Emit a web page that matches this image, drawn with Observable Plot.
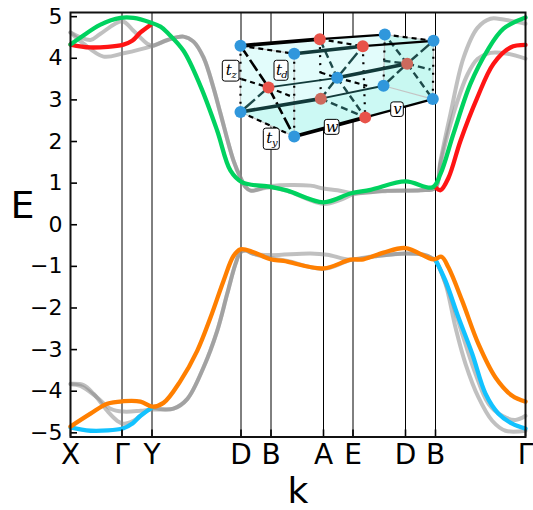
<!DOCTYPE html>
<html><head><meta charset="utf-8">
<script src="https://cdn.jsdelivr.net/npm/d3@7"></script>
<script src="https://cdn.jsdelivr.net/npm/@observablehq/plot@0.6"></script>
<style>html,body{margin:0;padding:0;background:#fff}svg{display:block}</style>
</head><body><div id="chart"></div>
<script>
const kTicks=[0,51.5,81.5,170.5,200.5,253,282.5,335,365,455];
const kLabels=["X","Γ","Y","D","B","A","E","D","B","Γ"];
const eTicks=[-5,-4,-3,-2,-1,0,1,2,3,4,5];

const green=[[0,4.33],[10,4.5],[30,4.81],[50,4.97],[63,4.97],[80,4.86],[90,4.76],[96.7,4.62],[113,4.18],[130,3.33],[146.7,2.26],[160,1.3],[171.7,1.02],[200,.91],[217,.82],[253,.54],[280,.75],[300,.84],[335,1.04],[362,.9],[370,1.22],[383,2.19],[400,3.39],[416.7,4.18],[433,4.71],[455,4.98]];
const redLeft=[[0,4.33],[20,4.26],[53,4.33],[61.7,4.42],[70,4.62],[80,4.8]];
const redRight=[[365,.9],[370,.83],[378,1.13],[390,2.02],[406.7,3.05],[423,3.87],[440,4.26],[455,4.32]];
const grayUp1=[[0,4.62],[20,4.44],[30,4.59],[51.7,4.89],[63,4.66],[76.7,4.35],[82,4.3],[97,4.44],[113,4.52],[123,4.4],[133,4.02],[143,3.29],[150,2.67],[163,1.54],[170,1.13],[175,.91],[180,.82],[200,.93],[240,.94],[253,.87],[267,.83],[283,.76],[317,.82],[350,.83],[365,.89],[370,1.54],[380,2.67],[393,4.01],[407,4.73],[420,4.95],[433,4.93],[455,4.83]];
const grayUp2=[[0,4.62],[13,4.35],[33,4.04],[53,4.12],[82,4.3],[97,4.44],[113,4.52],[123,4.4],[133,4.02],[143,3.29],[150,2.67],[163,1.54],[170,1.13],[175,.91],[180,.82],[200,.9],[217,.81],[253,.5],[270,.6],[283,.73],[317,.81],[350,.83],[365,.89],[370,1.47],[383,2.67],[397,3.61],[407,3.98],[420,4.13],[437,4.11],[455,3.99]];

const orange=[[0,-4.85],[20,-4.54],[36.7,-4.3],[53,-4.24],[70,-4.25],[81.7,-4.37],[93,-4.28],[110,-3.75],[126.7,-3.03],[140,-2.23],[153,-1.35],[163,-.75],[170,-.59],[183,-.66],[200,-.83],[213,-.87],[253,-1.05],[280,-.84],[293,-.83],[313,-.67],[335,-.56],[363,-.83],[371,-.77],[378,-1.03],[391.7,-1.83],[408,-2.87],[425,-3.67],[441.7,-4.11],[455,-4.25]];
const blueLeft=[[0,-4.87],[20,-4.95],[53,-4.89],[61.7,-4.78],[70,-4.59],[81.7,-4.39]];
const blueRight=[[365,-.84],[375,-1.35],[388,-2.23],[401.7,-3.1],[415,-4.06],[428,-4.54],[441.7,-4.78],[455,-4.9]];
const grayLow1=[[0,-3.82],[13,-3.85],[23,-4.06],[36.7,-4.47],[46.7,-4.71],[53,-4.78],[63,-4.71],[81.7,-4.4],[90,-4.43],[103,-4.42],[116.7,-4.19],[133,-3.43],[146.7,-2.55],[156.7,-1.66],[165,-.94],[170,-.66],[175,-.62],[183,-.7],[200,-.73],[240,-.69],[256.7,-.72],[280,-.84],[306.7,-.75],[335,-.69],[353,-.72],[363,-.82],[365,-.86],[375,-1.42],[385,-2.47],[395,-3.34],[408,-4.15],[421.7,-4.71],[435,-4.95],[455,-4.95]];
const grayLow2=[[0,-3.83],[10,-3.87],[26.7,-4.15],[40,-4.42],[53,-4.49],[70,-4.47],[81.7,-4.44],[90,-4.44],[103,-4.42],[116.7,-4.19],[133,-3.43],[146.7,-2.55],[156.7,-1.66],[165,-.94],[170,-.66],[175,-.62],[183,-.7],[200,-.8],[217,-.87],[253,-1.06],[280,-.85],[306.7,-.75],[335,-.69],[353,-.72],[363,-.82],[365,-.86],[378,-1.59],[391.7,-2.62],[405,-3.58],[418,-4.3],[431.7,-4.59],[445,-4.69],[455,-4.59]];

// inset lattice sketch, in the same k / E axes
const node={a:[170,4.3],b:[223.7,4.11],c:[314.3,4.57],d:[363,4.42],e:[170,2.71],f:[223.7,2.12],g:[313,3.34],h:[362.3,3.02],i:[266.7,3.53],
 m:[249.3,4.46],n:[292.3,4.29],o:[198,3.3],p:[250.3,3.03],q:[336.7,3.87],r:[294.7,2.58],
 u:[171,3.5],v:[223.3,3.06],w:[250,3.66],x:[296.7,3.34],y:[313,3.94],z:[360,3.73]};
const blueNodes=["a","b","c","d","e","f","g","h","i"];
const redNodes=["m","n","o","r"];
const mutedNodes=["p","q"];
const hull=["a","m","c","d","h","r","f","e","a"];
const faceBottom=["e","f","r","h","g","p","e"];
const faceRight=["c","d","h","g","c"];
const thickBlack=["a-m","f-r"];
const medBlack=["m-c","n-d","r-h"];
const thickTeal=["b-n","e-p","i-q"];
const thinTeal=["p-g","o-i"];
const dashBlack=["a-b","m-n","c-d","u-o","o-v","w-i","i-x","e-f"];
const dashThick=["a-o","o-f"];
const dashTeal=["i-m","i-r","q-c","q-h","p-r","y-q","q-z"];
const solidTeal=["o-e","i-n","i-p","q-d","q-g"];
const dotted=["a-e","b-f","m-p","n-r","c-g","d-h"];
const grayEdges=["a-b","c-d","g-h","e-f","a-e","b-f","c-g","d-h"];
const boxes=[
 {t:"t",s:"z",k1:152.3,k2:169,e1:3.94,e2:3.44},
 {t:"t",s:"d",k1:204,k2:218,e1:3.94,e2:3.46},
 {t:"t",s:"y",k1:193.3,k2:209.3,e1:2.31,e2:1.8},
 {t:"w",s:"",k1:254.3,k2:269,e1:2.52,e2:2.16},
 {t:"v",s:"",k1:320.7,k2:333.3,e1:2.94,e2:2.59}];

const xy={x:d=>d[0],y:d=>d[1]};
const band=(data,stroke)=>Plot.line(data,{...xy,stroke,strokeWidth:4.3,curve:"catmull-rom"});
const gray=(data)=>Plot.line(data,{...xy,stroke:"#888",strokeOpacity:.53,strokeWidth:4,curve:"catmull-rom"});
const poly=(names,fill)=>Plot.line(names.map(n=>node[n]),{...xy,fill,stroke:"none"});
const seg=(list,stroke,strokeWidth,strokeDasharray)=>Plot.link(list.map(s=>s.split("-")),{
  x1:d=>node[d[0]][0],y1:d=>node[d[0]][1],x2:d=>node[d[1]][0],y2:d=>node[d[1]][1],
  stroke,strokeWidth,strokeDasharray,strokeLinecap:"butt"});
const dots=(names,fill)=>Plot.dot(names,{x:n=>node[n][0],y:n=>node[n][1],r:6,fill,stroke:"none"});
const cx=b=>(b.k1+b.k2)/2, cy=b=>(b.e1+b.e2)/2;

const plot=Plot.plot({
 width:533,height:510,marginLeft:70,marginRight:8,marginTop:12,marginBottom:73.5,
 style:{fontFamily:"'DejaVu Sans'",background:"#fff"},
 x:{domain:[0,455],range:[70,525],label:null},
 y:{domain:[-5.1,5.1],range:[436.5,12],label:null},
 marks:[
  Plot.ruleX(kTicks.slice(1,-1),{stroke:"#000",strokeWidth:1}),
  poly(hull,"#e2fcfb"),
  poly(faceBottom,"#ccf9f4"),
  poly(faceRight,"#c8f8f1"),
  seg(grayEdges,"#c4c4c4",1.2),
  seg(dotted,"#000",2.2,"2 6"),
  seg(dashTeal,"#1d4a4a",2.4,"7 4"),
  seg(solidTeal,"#1d4a4a",2.4,"14 4"),
  seg(dashBlack,"#000",2.2,"5 4"),
  seg(dashThick,"#000",2.6,"13 4"),
  seg(thinTeal,"#123a3a",1.8),
  seg(thickTeal,"#123a3a",3.6),
  seg(medBlack,"#000",2.2),
  seg(thickBlack,"#000",3.8),
  dots(blueNodes,"#3097dc"),
  dots(redNodes,"#e8534a"),
  dots(mutedNodes,"#cc6a5d"),
  Plot.rect(boxes,{x1:"k1",x2:"k2",y1:"e1",y2:"e2",fill:"#fff",stroke:"#000",strokeWidth:1,rx:2.5}),
  Plot.text(boxes,{x:cx,y:cy,text:"t",fontFamily:"'DejaVu Serif'",fontStyle:"italic",fontSize:15,filter:b=>!b.s}),
  Plot.text(boxes,{x:cx,y:cy,text:"t",dx:-2.5,dy:-1,fontFamily:"'DejaVu Serif'",fontStyle:"italic",fontSize:15,filter:b=>b.s}),
  Plot.text(boxes,{x:cx,y:cy,text:"s",dx:3,dy:4,fontFamily:"'DejaVu Serif'",fontStyle:"italic",fontSize:10,filter:b=>b.s}),
  gray(grayUp1),gray(grayUp2),gray(grayLow1),gray(grayLow2),
  band(redLeft,"#ff1414"),band(redRight,"#ff1414"),
  band(green,"#00d25f"),
  band(blueLeft,"#12c2ff"),band(blueRight,"#12c2ff"),
  band(orange,"#ff7f00"),
  Plot.ruleX(kTicks,{y1:-5.1,y2:-4.93,stroke:"#000",strokeWidth:1.6}),
  Plot.ruleY(eTicks,{x1:0,x2:7,stroke:"#000",strokeWidth:1.6}),
  Plot.frame({stroke:"#111",strokeWidth:2}),
  Plot.axisX({ticks:kTicks,tickFormat:(d,i)=>kLabels[i],tickSize:0,tickPadding:7,fontSize:28,label:null,anchor:"bottom"}),
  Plot.axisY({ticks:eTicks,tickFormat:d=>d<0?"−"+(-d):""+d,tickSize:0,tickPadding:8,fontSize:22,label:null,anchor:"left"}),
  Plot.text(["E"],{frameAnchor:"left",dx:-48,dy:-19,fontSize:38,text:d=>d,fill:"#000",textAnchor:"middle"}),
  Plot.text(["k"],{frameAnchor:"bottom",dy:66,fontSize:36,text:d=>d,fill:"#000"})
 ]
});
document.getElementById("chart").append(plot);
</script></body></html>
